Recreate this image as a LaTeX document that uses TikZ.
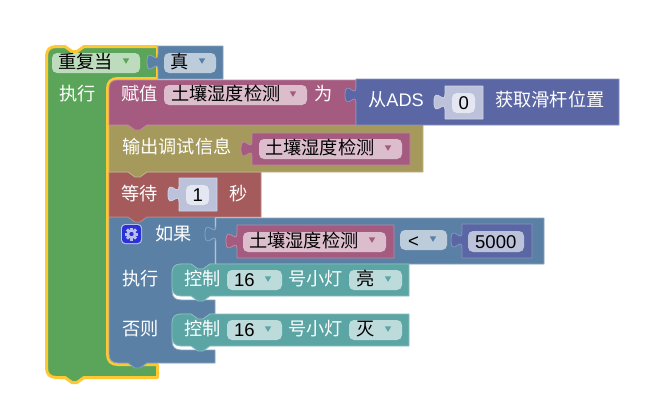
\documentclass[tikz,border=0pt]{standalone}
\usepackage{fontspec}
\setmainfont{Noto Sans CJK SC}
\newfontfamily\latinf{Liberation Sans}
\definecolor{cgreen}{HTML}{5BA55B}\definecolor{fgreen}{HTML}{BDDBBD}
\definecolor{cyellow}{HTML}{FFC832}
\definecolor{cblue}{HTML}{5B80A5}\definecolor{fblue}{HTML}{BDCCDB}
\definecolor{cpurple}{HTML}{A55B80}\definecolor{fpurple}{HTML}{DBBDCC}
\definecolor{cindigo}{HTML}{5B67A5}\definecolor{findigo}{HTML}{BDC2DB}\definecolor{pale}{HTML}{E4E7F1}
\definecolor{colive}{HTML}{A5995B}
\definecolor{cred}{HTML}{A55B5B}
\definecolor{cteal}{HTML}{5BA5A5}\definecolor{fteal}{HTML}{BDDBDB}
\definecolor{cgear}{HTML}{2A32D6}\definecolor{lgear}{HTML}{B9BEEF}
\tikzset{
  blk/.style={fill=#1,draw=#1!72!white,line width=0.8pt,line join=round},
  lab/.style={anchor=base west,inner sep=0pt,text=white,font=\fontsize{18.2}{18}\selectfont},
  val/.style={lab,text=black},
  num/.style={lab,text=black,font=\fontsize{18.5}{18}\latinf},
}
% tab going down the left edge at x=#1 from y=#2
\newcommand{\tabdown}[2]{(#1,#2) .. controls (#1,#2+12) and (#1-11,#2-9) .. (#1-11,#2+8) .. controls (#1-11,#2+25) and (#1,#2+4) .. (#1,#2+16)}
\newcommand{\valblock}[5]{\path[blk=#5] \tabdown{#1}{#2+8} -- (#1,#4) -- (#3,#4) -- (#3,#2) -- (#1,#2) -- cycle;}
\newcommand{\field}[5]{\fill[#5,rounded corners=5pt] (#1,#2) rectangle (#3,#4);}
\newcommand{\tri}[3]{\fill[#3] (#1-3.2,#2-2.6) -- (#1+3.2,#2-2.6) -- (#1,#2+2.8) -- cycle;}
% bottom notch going left, ending at x=#1, at y=#2
\newcommand{\tabbot}[2]{(#1+19,#2) -- (#1+12,#2+5) -- (#1+7,#2+5) -- (#1,#2)}
\newcommand{\dent}[2]{(#1,#2) -- (#1+7,#2+5) -- (#1+12,#2+5) -- (#1+19,#2)}
\begin{document}
\begin{tikzpicture}[x=1pt,y=-1pt]
\useasboundingbox (0,0) rectangle (657,402);
\fill[white] (0,0) rectangle (657,402);
% outer repeat block
\path[fill=cgreen,draw=cyellow,line width=3pt,line join=round]
  (46.5,56) .. controls (46.5,50) and (50,46.5) .. (56,46.5) -- \dent{65}{46.5} -- (157.5,46.5) -- (157.5,78.5)
  -- (118,78.5) .. controls (111,78.5) and (107.5,82) .. (107.5,89) -- (107.5,354)
  .. controls (107.5,361) and (111,364.5) .. (118,364.5) -- (157.5,364.5) -- (157.5,377.5) -- \tabbot{65}{377.5}
  -- (56,377.5) .. controls (50,377.5) and (46.5,374) .. (46.5,368) -- cycle;
\valblock{158}{46}{223}{79}{cblue}
\field{52}{53}{140}{73}{fgreen}
\node[val] (t1) at (58,68.5) {重复当};
\tri{126}{61}{cgreen}
\field{164}{53}{216}{73}{fblue}
\node[val] (t2) at (170,68.5) {真};
\tri{202}{61}{cblue}
\node[lab] (t3) at (59,100) {执行};
% if block
\path[blk=cblue] (109,217) -- (215,217) -- (215,264) -- (210,264) -- (203,269) -- (198,269) -- (191,264) -- (181,264)
  .. controls (175,264) and (172,267) .. (172,273) -- (172,291) .. controls (172,297) and (175,300) .. (181,300)
  -- (215,300) -- (215,314) -- (210,314) -- (203,319) -- (198,319) -- (191,314) -- (181,314)
  .. controls (175,314) and (172,317) .. (172,323) -- (172,341) .. controls (172,347) and (175,350) .. (181,350)
  -- (215,350) -- (215,363) -- \tabbot{128}{363} -- (118,363) .. controls (112,363) and (109,360) .. (109,354) -- cycle;
\valblock{216}{218}{544}{264}{cblue}
% gear
\fill[lgear,rounded corners=4pt] (121,224) rectangle (142,244);
\fill[cgear,rounded corners=3.5pt] (122,225) rectangle (141,243);
\foreach \a in {0,45,...,315}{\fill[lgear,rotate around={\a:(131.5,234)}] (130,227.5) rectangle (133,230);}
\draw[lgear,line width=2.4pt] (131.5,234) circle (3.6);
\node[lab] (t4) at (155,240.5) {如果};
\node[lab] (t5) at (122,285.5) {执行};
\node[lab] (t6) at (122,335.5) {否则};
% comparison contents
\valblock{237}{225}{394}{258}{cpurple}
\field{243}{232}{386}{252}{fpurple}
\node[val] (t7) at (249,247.5) {土壤湿度检测};
\tri{372}{240}{cpurple}
\field{400}{230}{447}{250}{fblue}
\node[num] (t8) at (408,247) {<};
\tri{433}{239}{cblue}
\valblock{462}{224}{532}{258}{cindigo}
\field{468}{231}{524}{252}{findigo}
\node[num] (t9) at (475,248) {5000};
% lamp blocks
\foreach \dy/\nm/\st in {0/a/亮,50/b/灭}{
  \path[blk=cteal] (181,264+\dy) -- \dent{191}{264+\dy} -- (409,264+\dy) -- (409,296+\dy) -- \tabbot{191}{296+\dy} -- (181,296+\dy)
    .. controls (175,296+\dy) and (172,293+\dy) .. (172,287+\dy) -- (172,273+\dy) .. controls (172,267+\dy) and (175,264+\dy) .. (181,264+\dy) -- cycle;
  \field{227}{270+\dy}{282}{290+\dy}{fteal}
  \field{349}{270+\dy}{402}{290+\dy}{fteal}
  \node[lab] (c\nm) at (184,285.5+\dy) {控制};
  \node[num] (n\nm) at (234,286+\dy) {16};
  \tri{268}{279+\dy}{cteal}
  \node[lab] (l\nm) at (288,285.5+\dy) {号小灯};
  \node[val] (s\nm) at (356,285.5+\dy) {\st};
  \tri{388}{279+\dy}{cteal}
}
% wait block
\path[blk=cred] (109,172) -- (261,172) -- (261,217) -- \tabbot{128}{217} -- (109,217) -- cycle;
\node[lab] (t10) at (121,200.5) {等待};
\valblock{179}{178}{217}{211}{findigo}
\field{186}{185}{209}{205}{pale}
\node[num] (t11) at (192.5,201) {1};
\node[lab] (t12) at (229,200.5) {秒};
% print block
\path[blk=colive] (109,125) -- (423,125) -- (423,172) -- \tabbot{128}{172} -- (109,172) -- cycle;
\node[lab] (t13) at (122,153.5) {输出调试信息};
\valblock{252}{133}{410}{165}{cpurple}
\field{259}{139}{402}{159}{fpurple}
\node[val] (t14) at (265,154.5) {土壤湿度检测};
\tri{388}{148}{cpurple}
% assign block
\path[blk=cpurple] (117,80) -- (356,80) -- (356,125) -- \tabbot{128}{125} -- (109,125) -- (109,88) .. controls (109,83) and (112,80) .. (117,80) -- cycle;
\node[lab] (t15) at (121,100.5) {赋值};
\field{164}{85}{307}{105}{fpurple}
\node[val] (t16) at (171,100.5) {土壤湿度检测};
\tri{293}{94}{cpurple}
\node[lab] (t17) at (314,100.5) {为};
\valblock{356}{79}{619}{125}{cindigo}
\node[lab] (t18) at (368,106.5) {从{\latinf ADS}};
\valblock{445}{86}{483}{119}{findigo}
\field{452}{93}{475}{113}{pale}
\node[num] (t19) at (458.5,109) {0};
\node[lab] (t20) at (495,106.5) {获取滑杆位置};
\end{tikzpicture}
\end{document}
